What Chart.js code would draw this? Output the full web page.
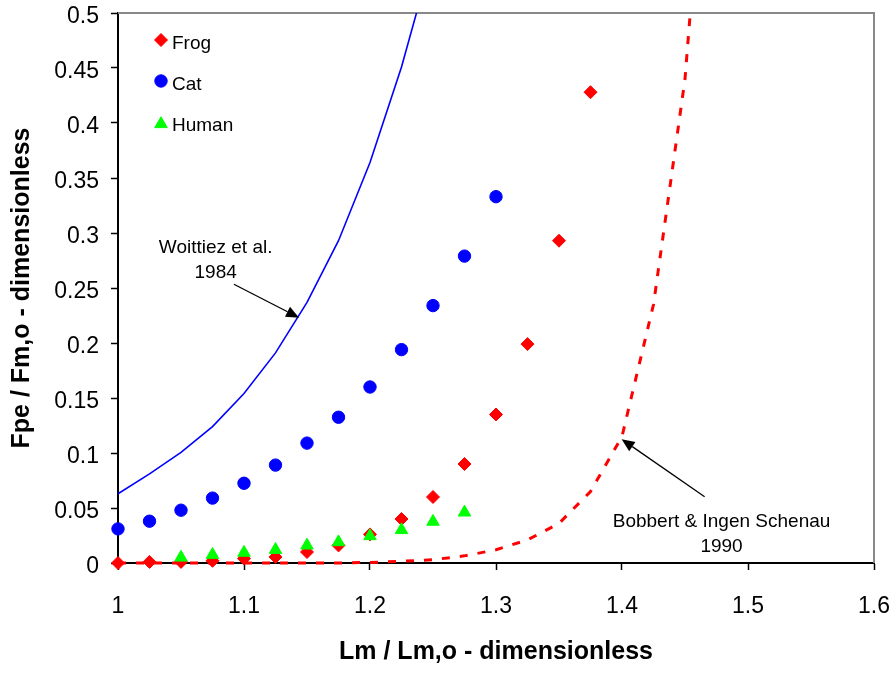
<!DOCTYPE html>
<html>
<head>
<meta charset="utf-8">
<title>Passive force-length</title>
<script src="https://cdn.jsdelivr.net/npm/chart.js@4.4.1/dist/chart.umd.min.js"></script>
<style>
    html, body { margin: 0; padding: 0; background: #fff; }
    canvas { display: block; }
</style>
</head>
<body>
<canvas id="forceChart" width="893" height="675"></canvas>
<script>
/* ===========================
   DATA
=========================== */
const frogX = [1.0, 1.025, 1.05, 1.075, 1.1, 1.125, 1.15, 1.175, 1.2, 1.225, 1.25, 1.275, 1.3, 1.325, 1.35, 1.375];
const frogY = [0, 0.001, 0.001, 0.002, 0.004, 0.0055, 0.010, 0.016, 0.026, 0.040, 0.060, 0.090, 0.135, 0.199, 0.293, 0.428];

const catX = [1.0, 1.025, 1.05, 1.075, 1.1, 1.125, 1.15, 1.175, 1.2, 1.225, 1.25, 1.275, 1.3];
const catY = [0.031, 0.038, 0.048, 0.059, 0.0725, 0.089, 0.109, 0.1325, 0.160, 0.194, 0.234, 0.279, 0.333];

const humanX = [1.05, 1.075, 1.1, 1.125, 1.15, 1.175, 1.2, 1.225, 1.25, 1.275];
const humanY = [0.005, 0.0075, 0.0094, 0.012, 0.016, 0.019, 0.0245, 0.030, 0.0376, 0.046];

const woittiezX = [1.0, 1.025, 1.05, 1.075, 1.1, 1.125, 1.15, 1.175, 1.2, 1.225, 1.25];
const woittiezY = [0.063, 0.081, 0.1006, 0.124, 0.154, 0.191, 0.237, 0.293, 0.364, 0.451, 0.554];

const bobbertX = [1.0, 1.025, 1.05, 1.075, 1.1, 1.125, 1.15, 1.175, 1.2, 1.225, 1.25, 1.275, 1.3, 1.325, 1.35, 1.375, 1.4, 1.425, 1.45, 1.475];
const bobbertY = [0, 0, 0, 0, 0, 0, 0, 0, 0.0005, 0.0015, 0.003, 0.0065, 0.012, 0.021, 0.036, 0.065, 0.115, 0.235, 0.44, 0.8];

const xTickValues = [1, 1.1, 1.2, 1.3, 1.4, 1.5, 1.6];
const yTickValues = [0, 0.05, 0.1, 0.15, 0.2, 0.25, 0.3, 0.35, 0.4, 0.45, 0.5];

const FONT = "'Liberation Sans', Arial, sans-serif";

function toPoints(xs, ys) {
    return xs.map((x, i) => ({ x: x, y: ys[i] }));
}

/* ===========================
   ANNOTATIONS (data coords)
=========================== */
const notes = [
    {
        lines: ['Woittiez et al.', '1984'],
        textAt: { x: 1.0775, y: 0.2816 },
        from: { x: 1.092, y: 0.2534 },
        to: { x: 1.1437, y: 0.223 }
    },
    {
        lines: ['Bobbert & Ingen Schenau', '1990'],
        textAt: { x: 1.479, y: 0.0325 },
        from: { x: 1.4656, y: 0.0603 },
        to: { x: 1.3997, y: 0.1125 }
    }
];

/* ===========================
   PLUGINS
=========================== */

// gray frame on the top and right of the plot
const framePlugin = {
    id: 'frame',
    beforeDatasetsDraw(chart) {
        const { ctx, chartArea: a } = chart;
        ctx.save();
        ctx.strokeStyle = '#888888';
        ctx.lineWidth = 2;
        ctx.beginPath();
        ctx.moveTo(a.left, a.top);
        ctx.lineTo(a.right, a.top);
        ctx.lineTo(a.right, a.bottom);
        ctx.stroke();
        ctx.restore();
    }
};

// arrows with their captions
const notesPlugin = {
    id: 'notes',
    afterDatasetsDraw(chart) {
        const { ctx, scales } = chart;
        const px = p => ({ x: scales.x.getPixelForValue(p.x), y: scales.y.getPixelForValue(p.y) });

        ctx.save();
        ctx.fillStyle = '#000';
        ctx.strokeStyle = '#000';
        ctx.font = '19px ' + FONT;
        ctx.textAlign = 'center';
        ctx.textBaseline = 'alphabetic';

        notes.forEach(n => {
            const t = px(n.textAt);
            n.lines.forEach((line, i) => ctx.fillText(line, t.x, t.y + i * 25));

            const a = px(n.from);
            const b = px(n.to);
            const ang = Math.atan2(b.y - a.y, b.x - a.x);
            const headLen = 13;
            const headHalf = 5.5;
            const bx = b.x - Math.cos(ang) * headLen;
            const by = b.y - Math.sin(ang) * headLen;

            ctx.lineWidth = 1.3;
            ctx.beginPath();
            ctx.moveTo(a.x, a.y);
            ctx.lineTo(bx, by);
            ctx.stroke();

            ctx.beginPath();
            ctx.moveTo(b.x, b.y);
            ctx.lineTo(bx - Math.sin(ang) * headHalf, by + Math.cos(ang) * headHalf);
            ctx.lineTo(bx + Math.sin(ang) * headHalf, by - Math.cos(ang) * headHalf);
            ctx.closePath();
            ctx.fill();
        });
        ctx.restore();
    }
};

// legend inside the plot, top left
const legendPlugin = {
    id: 'insideLegend',
    afterDatasetsDraw(chart) {
        const { ctx, chartArea: a } = chart;
        const items = chart.data.datasets.filter(d => d.inLegend);

        ctx.save();
        ctx.font = '19px ' + FONT;
        ctx.textAlign = 'left';
        ctx.textBaseline = 'alphabetic';

        items.forEach((d, i) => {
            const cy = a.top + 27 + i * 41;
            ctx.fillStyle = d.backgroundColor;
            ctx.strokeStyle = d.borderColor;
            Chart.helpers.drawPoint(ctx, {
                pointStyle: d.pointStyle,
                radius: d.pointRadius,
                rotation: 0,
                borderWidth: d.borderWidth
            }, a.left + 43, cy + (d.pointStyle === 'triangle' ? 2 : 0));

            ctx.fillStyle = '#000';
            ctx.fillText(d.label, a.left + 54, cy + 9);
        });
        ctx.restore();
    }
};

/* ===========================
   CHART
=========================== */
const ctx = document.getElementById('forceChart').getContext('2d');

new Chart(ctx, {
    type: 'scatter',
    data: {
        datasets: [
            {
                label: 'Frog',
                inLegend: true,
                data: toPoints(frogX, frogY),
                pointStyle: 'rectRot',
                pointRadius: 6.5,
                borderWidth: 1,
                backgroundColor: '#ff0000',
                borderColor: '#ff0000',
                clip: false,
                order: 2
            },
            {
                label: 'Cat',
                inLegend: true,
                data: toPoints(catX, catY),
                pointStyle: 'circle',
                pointRadius: 6.2,
                borderWidth: 1,
                backgroundColor: '#0000ff',
                borderColor: '#0000ff',
                clip: false,
                order: 1
            },
            {
                label: 'Human',
                inLegend: true,
                data: toPoints(humanX, humanY),
                pointStyle: 'triangle',
                pointRadius: 7.2,
                borderWidth: 1,
                backgroundColor: '#00ff00',
                borderColor: '#00ff00',
                clip: false,
                order: 0
            },
            {
                label: 'Woittiez et al. 1984',
                data: toPoints(woittiezX, woittiezY),
                showLine: true,
                pointRadius: 0,
                borderColor: '#0000ff',
                borderWidth: 1.6,
                tension: 0,
                clip: { left: 0, top: 0, right: 0, bottom: 4 },
                order: 3
            },
            {
                label: 'Bobbert & Ingen Schenau 1990',
                data: toPoints(bobbertX, bobbertY),
                showLine: true,
                pointRadius: 0,
                borderColor: '#ff0000',
                borderWidth: 3,
                borderDash: [8, 10],
                tension: 0,
                clip: { left: 0, top: 0, right: 0, bottom: 4 },
                order: 4
            }
        ]
    },
    options: {
        responsive: false,
        animation: false,
        events: [],
        layout: { padding: { top: 13, right: 19, left: 0, bottom: 0 } },
        plugins: {
            legend: { display: false },
            tooltip: { enabled: false }
        },
        scales: {
            x: {
                type: 'linear',
                min: 1,
                max: 1.6,
                afterBuildTicks: scale => { scale.ticks = xTickValues.map(v => ({ value: v })); },
                afterFit: scale => {
                    scale.height = 112;
                    scale.paddingLeft = 0;
                    scale.paddingRight = 0;
                },
                ticks: {
                    color: '#000',
                    font: { family: FONT, size: 23, lineHeight: 1.1 },
                    padding: 24,
                    maxRotation: 0,
                    autoSkip: false,
                    callback: v => String(v)
                },
                grid: {
                    drawOnChartArea: false,
                    drawTicks: true,
                    tickLength: 7,
                    tickColor: '#000',
                    tickWidth: 1.5
                },
                border: { color: '#000', width: 2 },
                title: {
                    display: true,
                    text: 'Lm / Lm,o - dimensionless',
                    color: '#000',
                    font: { family: FONT, size: 25, weight: 'bold' },
                    padding: { top: 0, bottom: 8 }
                }
            },
            y: {
                type: 'linear',
                min: 0,
                max: 0.5,
                afterBuildTicks: scale => { scale.ticks = yTickValues.map(v => ({ value: v })); },
                afterFit: scale => {
                    scale.width = 118;
                    scale.paddingTop = 0;
                    scale.paddingBottom = 0;
                },
                ticks: {
                    color: '#000',
                    font: { family: FONT, size: 23, lineHeight: 1.1 },
                    padding: 12,
                    labelOffset: 4,
                    autoSkip: false,
                    callback: v => String(v)
                },
                grid: {
                    drawOnChartArea: false,
                    drawTicks: true,
                    tickLength: 7,
                    tickColor: '#000',
                    tickWidth: 1.5
                },
                border: { color: '#000', width: 2 },
                title: {
                    display: true,
                    text: 'Fpe / Fm,o - dimensionless',
                    color: '#000',
                    font: { family: FONT, size: 25, weight: 'bold' },
                    padding: { top: 7, bottom: 0 }
                }
            }
        }
    },
    plugins: [framePlugin, notesPlugin, legendPlugin]
});
</script>
</body>
</html>
